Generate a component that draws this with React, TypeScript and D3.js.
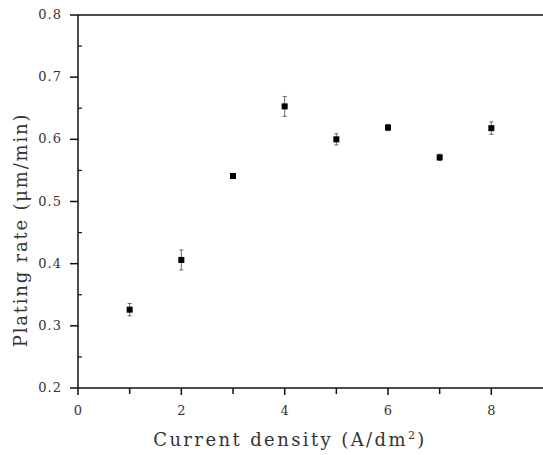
import React, { useEffect, useRef } from 'react';
import * as d3 from 'd3';

// current density (A/dm2)
const density = [1, 2, 3, 4, 5, 6, 7, 8];
// plating rate (um/min)
const rate = [0.326, 0.406, 0.541, 0.653, 0.6, 0.619, 0.571, 0.618];
// error bar half-width
const err = [0.01, 0.016, 0.004, 0.016, 0.009, 0.005, 0.005, 0.01];

const xTicks = [0, 2, 4, 6, 8];
const yTicks = [0.2, 0.3, 0.4, 0.5, 0.6, 0.7, 0.8];

const W = 543;
const H = 455;
const margin = { top: 15, right: 0, bottom: 67, left: 78 };

export default function App() {
  const ref = useRef<SVGSVGElement>(null);

  useEffect(() => {
    const svg = d3.select(ref.current);
    svg.selectAll('*').remove();

    const width = W - margin.left - margin.right;
    const height = H - margin.top - margin.bottom;
    const font = '"DejaVu Serif", "Liberation Serif", serif';

    const x = d3.scaleLinear().domain([0, 9]).range([0, width]);
    const y = d3.scaleLinear().domain([0.2, 0.8]).range([height, 0]);

    const g = svg.append('g').attr('transform', `translate(${margin.left},${margin.top})`);

    // frame: left, bottom, top (no right side)
    g.append('line').attr('x1', 0).attr('x2', width).attr('y1', 0).attr('y2', 0)
      .attr('stroke', '#111').attr('stroke-width', 1.5);
    g.append('line').attr('x1', 0).attr('x2', width).attr('y1', height).attr('y2', height)
      .attr('stroke', '#111').attr('stroke-width', 1.5);
    g.append('line').attr('x1', 0).attr('x2', 0).attr('y1', 0).attr('y2', height)
      .attr('stroke', '#111').attr('stroke-width', 1.5);

    // x ticks
    const xMinor = d3.range(1, 9, 2);
    g.selectAll('.xmaj').data(xTicks).enter().append('line')
      .attr('x1', d => x(d)).attr('x2', d => x(d))
      .attr('y1', height).attr('y2', height + 7)
      .attr('stroke', '#111').attr('stroke-width', 1.5);
    g.selectAll('.xmin').data(xMinor).enter().append('line')
      .attr('x1', d => x(d)).attr('x2', d => x(d))
      .attr('y1', height).attr('y2', height + 6)
      .attr('stroke', '#111').attr('stroke-width', 1.5);
    g.selectAll('.xlab').data(xTicks).enter().append('text')
      .attr('x', d => x(d)).attr('y', height + 27)
      .attr('text-anchor', 'middle')
      .attr('font-family', font).attr('font-size', 13).attr('fill', '#333')
      .text(d => d);

    // y ticks
    const yMinor = d3.range(0.25, 0.8, 0.1);
    g.selectAll('.ymaj').data(yTicks).enter().append('line')
      .attr('x1', -8).attr('x2', 0)
      .attr('y1', d => y(d)).attr('y2', d => y(d))
      .attr('stroke', '#111').attr('stroke-width', 1.5);
    g.selectAll('.ymin').data(yMinor).enter().append('line')
      .attr('x1', 0).attr('x2', 4)
      .attr('y1', d => y(d)).attr('y2', d => y(d))
      .attr('stroke', '#111').attr('stroke-width', 1.2);
    g.selectAll('.ylab').data(yTicks).enter().append('text')
      .attr('x', -16).attr('y', d => y(d) + 4)
      .attr('text-anchor', 'end')
      .attr('font-family', font).attr('font-size', 13).attr('fill', '#333')
      .attr('letter-spacing', 1)
      .text(d => d.toFixed(1));

    // error bars
    const pts = density.map((d, i) => ({ x: d, y: rate[i], e: err[i] }));
    const eb = g.selectAll('.eb').data(pts).enter().append('g');
    eb.append('line')
      .attr('x1', d => x(d.x)).attr('x2', d => x(d.x))
      .attr('y1', d => y(d.y + d.e)).attr('y2', d => y(d.y - d.e))
      .attr('stroke', '#666').attr('stroke-width', 1);
    eb.append('line')
      .attr('x1', d => x(d.x) - 2).attr('x2', d => x(d.x) + 2)
      .attr('y1', d => y(d.y + d.e)).attr('y2', d => y(d.y + d.e))
      .attr('stroke', '#666').attr('stroke-width', 1);
    eb.append('line')
      .attr('x1', d => x(d.x) - 2).attr('x2', d => x(d.x) + 2)
      .attr('y1', d => y(d.y - d.e)).attr('y2', d => y(d.y - d.e))
      .attr('stroke', '#666').attr('stroke-width', 1);

    // square markers
    const s = 6;
    g.selectAll('.pt').data(pts).enter().append('rect')
      .attr('x', d => x(d.x) - s / 2).attr('y', d => y(d.y) - s / 2)
      .attr('width', s).attr('height', s)
      .attr('fill', '#000');

    // axis titles
    const xt = svg.append('text')
      .attr('x', 290).attr('y', 446)
      .attr('text-anchor', 'middle')
      .attr('font-family', font).attr('font-size', 18).attr('fill', '#333')
      .attr('letter-spacing', 2.4);
    xt.append('tspan').text('Current density (A/dm');
    xt.append('tspan').attr('dy', -7).attr('font-size', 11).text('2');
    xt.append('tspan').attr('dy', 7).text(')');

    svg.append('text')
      .attr('transform', 'translate(27,230) rotate(-90)')
      .attr('text-anchor', 'middle')
      .attr('font-family', font).attr('font-size', 18).attr('fill', '#333')
      .attr('letter-spacing', 1.8)
      .text('Plating rate (μm/min)');
  }, []);

  return (
    <svg ref={ref} width={W} height={H}
      style={{ position: 'absolute', left: 0, top: 0, background: '#fff' }} />
  );
}
